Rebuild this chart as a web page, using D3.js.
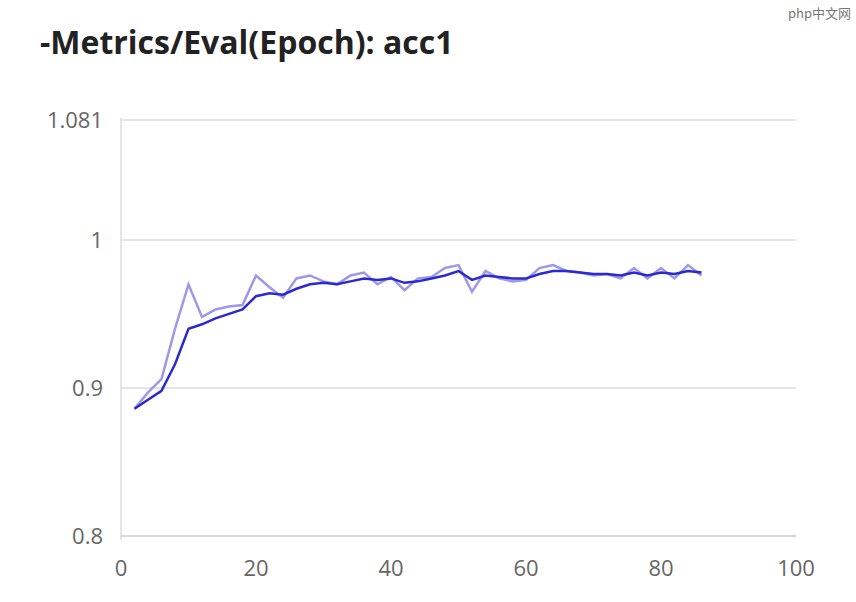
<!DOCTYPE html>
<html><head><meta charset="utf-8">
<script src="https://cdn.jsdelivr.net/npm/d3@7"></script>
<style>body{margin:0;background:#fff}</style></head>
<body><svg id="c" width="856" height="602"></svg>
<script>
const epochs = d3.range(2, 87, 2);
const rawAcc = [0.886,0.897,0.906,0.940,0.970,0.948,0.953,0.955,0.956,0.976,0.968,0.961,0.974,0.976,0.972,0.970,0.976,0.978,0.970,0.975,0.966,0.974,0.975,0.981,0.983,0.965,0.979,0.974,0.972,0.973,0.981,0.983,0.979,0.978,0.976,0.977,0.974,0.981,0.974,0.981,0.974,0.983,0.976];
const smoothAcc = [0.886,0.892,0.898,0.916,0.940,0.943,0.947,0.950,0.953,0.962,0.964,0.963,0.967,0.970,0.971,0.970,0.972,0.974,0.973,0.974,0.971,0.972,0.974,0.976,0.979,0.973,0.976,0.975,0.974,0.974,0.977,0.979,0.979,0.978,0.977,0.977,0.976,0.978,0.976,0.978,0.977,0.979,0.978];
const yTicks = [0.8, 0.9, 1, 1.081];
const xTicks = [0, 20, 40, 60, 80, 100];

const svg = d3.select("#c");
const x = d3.scaleLinear().domain([0,100]).range([121,796]);
const y = d3.scaleLinear().domain([0.8,1.081]).range([536,120]);
const font = "'Open Sans', 'Noto Sans', sans-serif";

svg.append("text").attr("x",40).attr("y",54).attr("font-family",font).attr("font-weight","bold")
  .attr("font-size",32).attr("fill","#222").text("-Metrics/Eval(Epoch): acc1");
svg.append("text").attr("x",851).attr("y",18).attr("text-anchor","end").attr("font-family","'Noto Sans CJK SC', sans-serif")
  .attr("font-size",13).attr("fill","#777").text("php中文网");

svg.selectAll("line.grid").data(yTicks.filter(t=>t>0.8)).join("line")
  .attr("x1",121).attr("x2",796).attr("y1",d=>y(d)).attr("y2",d=>y(d)).attr("stroke","#ddd").attr("stroke-width",1.5);
svg.append("line").attr("x1",121).attr("x2",121).attr("y1",118).attr("y2",540).attr("stroke","#ddd").attr("stroke-width",1.5);
svg.append("line").attr("x1",121).attr("x2",796).attr("y1",y(0.8)).attr("y2",y(0.8)).attr("stroke","#ccc").attr("stroke-width",1.5);

svg.selectAll("text.yt").data(yTicks).join("text").attr("x",103).attr("y",d=>y(d)+8).attr("text-anchor","end")
  .attr("font-family",font).attr("font-size",22).attr("fill","#666").text(d=>d);
svg.selectAll("text.xt").data(xTicks).join("text").attr("x",d=>x(d)).attr("y",576).attr("text-anchor","middle")
  .attr("font-family",font).attr("font-size",22).attr("fill","#666").text(d=>d);

const line = d3.line().x((d,i)=>x(epochs[i])).y(d=>y(d));
svg.append("path").datum(rawAcc).attr("d",line).attr("fill","none").attr("stroke","#9d99e8").attr("stroke-width",2.5);
svg.append("path").datum(smoothAcc).attr("d",line).attr("fill","none").attr("stroke","#2a2ad0").attr("stroke-width",2.5);
</script></body></html>
